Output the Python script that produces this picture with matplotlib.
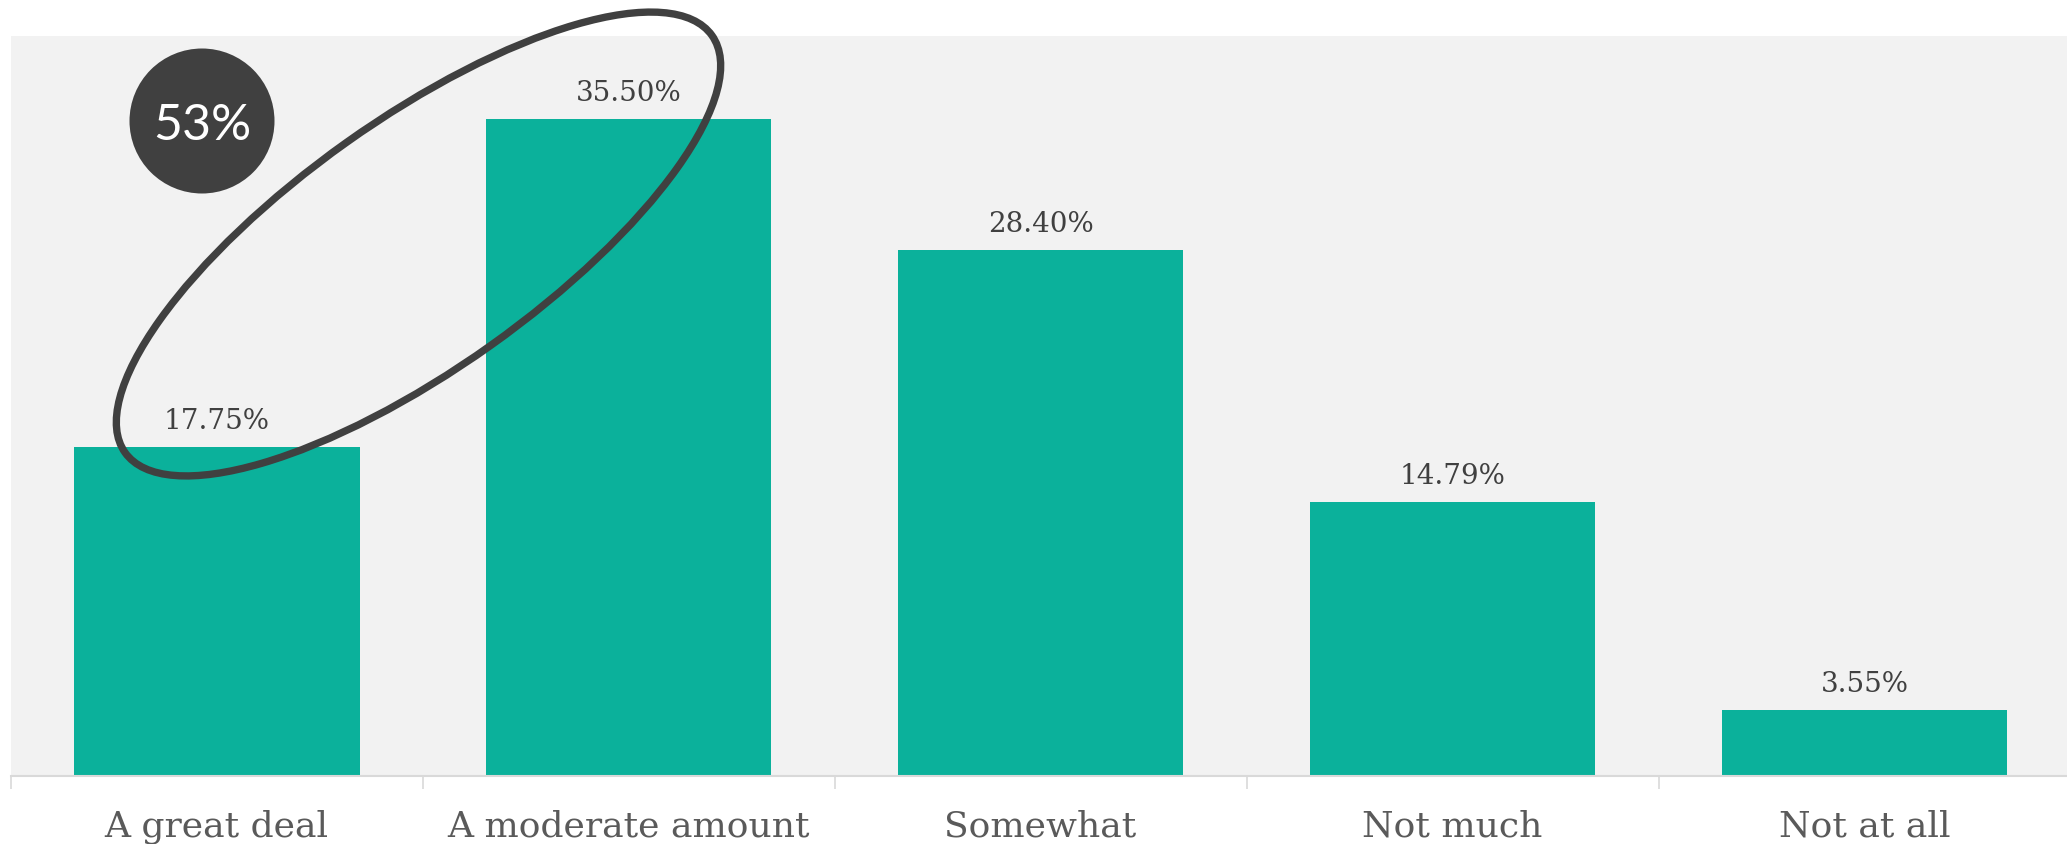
import matplotlib
matplotlib.use("Agg")
import matplotlib.pyplot as plt
from matplotlib.patches import Circle, Ellipse

categories = ["A great deal", "A moderate amount", "Somewhat", "Not much", "Not at all"]
values = [17.75, 35.50, 28.40, 14.79, 3.55]

bar_color = "#0BB19B"
text_dark = "#404040"
label_gray = "#5a5a5a"

fig = plt.figure(figsize=(20.67, 8.44), dpi=100)
ax = fig.add_axes([0.0051, 0.0806, 0.9966, 0.8772])
ax.set_facecolor("#f2f2f2")

x = range(len(categories))
ax.bar(x, values, width=0.694, color=bar_color, zorder=2)

for i, v in enumerate(values):
    ax.annotate(f"{v:.2f}%", (i, v), xytext=(0, 13), textcoords="offset points",
                ha="center", va="baseline", fontsize=20, color=text_dark,
                family="DejaVu Serif")

ax.set_xlim(-0.5, len(categories) - 0.5)
ax.set_ylim(0, 40)
ax.set_yticks([])

# category names under the bars, separators between them
ax.set_xticks(list(x))
ax.set_xticklabels(categories, fontsize=26, color=label_gray, family="DejaVu Serif")
ax.tick_params(axis="x", which="major", length=0, pad=24)
ax.set_xticks([i - 0.5 for i in range(len(categories) + 1)], minor=True)
ax.tick_params(axis="x", which="minor", length=9.5, width=1.2, color="#d9d9d9")

for side in ("top", "left", "right"):
    ax.spines[side].set_visible(False)
ax.spines["bottom"].set_color("#d9d9d9")
ax.spines["bottom"].set_linewidth(1.5)

# combined share of the first two answers, placed in inches on the figure
inch = fig.dpi_scale_trans
combined = round(values[0] + values[1])
badge = Circle((2.02, 7.23), 0.725, transform=inch, facecolor=text_dark,
               edgecolor="none", zorder=5, clip_on=False)
ax.add_patch(badge)
ax.text(2.02, 7.23, f"{combined}%", transform=inch, ha="center",
        va="center_baseline", fontsize=36, color="white", family="Lato",
        zorder=6, clip_on=False)

ring = Ellipse((4.185, 6.00), 7.2, 2.49, angle=35.4, transform=inch,
               fill=False, edgecolor=text_dark, linewidth=5.3, zorder=6, clip_on=False)
ax.add_patch(ring)

fig.savefig("out.png", dpi=100, facecolor="white")
